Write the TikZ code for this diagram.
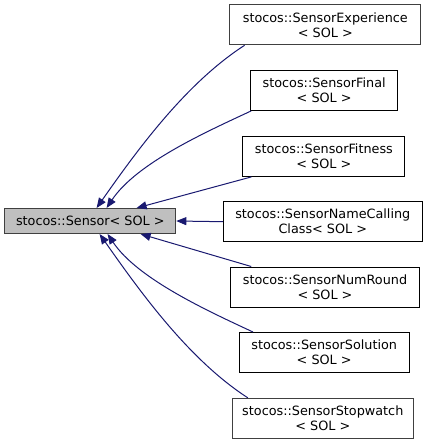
\documentclass[tikz,border=0pt]{standalone}
\usepackage{fontspec}
\setmainfont{DejaVu Sans}
\usetikzlibrary{arrows.meta}
\definecolor{edgeblue}{HTML}{191970}
\definecolor{boxgray}{HTML}{404040}
\definecolor{fillgray}{HTML}{BFBFBF}
\begin{document}
\begin{tikzpicture}[x=1pt,y=-1pt,
  cls/.style={draw=black, line width=1pt, align=center, inner sep=0pt,
    font=\fontsize{12.8}{15}\selectfont, minimum height=40pt},
  graycls/.style={cls, draw=boxgray},
  edge/.style={draw=edgeblue, line width=1pt, -{Triangle[length=10pt,width=8pt]}}]
\useasboundingbox (0,0) rectangle (429,444);
\node[graycls, fill=fillgray, minimum width=171pt, minimum height=25pt] (s) at (90.3,221) {stocos::Sensor< SOL >};
\node[graycls, minimum width=191pt] (exp) at (325.3,24.8) {stocos::SensorExperience\\< SOL >};
\node[cls, minimum width=147pt] (fin) at (324.2,90.4) {stocos::SensorFinal\\< SOL >};
\node[cls, minimum width=162pt] (fit) at (323.9,156.4) {stocos::SensorFitness\\< SOL >};
\node[cls, minimum width=199pt] (nc) at (322.8,221.7) {stocos::SensorNameCalling\\Class< SOL >};
\node[cls, minimum width=188.6pt] (nr) at (325,287) {stocos::SensorNumRound\\< SOL >};
\node[cls, minimum width=170pt] (sol) at (324.2,352.5) {stocos::SensorSolution\\< SOL >};
\node[graycls, minimum width=181pt] (sw) at (322.8,418.3) {stocos::SensorStopwatch\\< SOL >};
\draw[edge] ([xshift=15.3pt]exp.south west) .. controls +(-59,38) and +(40,-57) .. ([xshift=92.3pt]s.north west);
\draw[edge] ([xshift=1pt]fin.south west) .. controls +(-45,21) and +(30,-45) .. ([xshift=102.3pt]s.north west);
\draw[edge] ([xshift=9pt]fit.south west) -- ([xshift=132.3pt]s.north west);
\draw[edge] (nc.west) -- (s.east);
\draw[edge] ([xshift=21pt]nr.north west) -- ([xshift=136.3pt]s.south west);
\draw[edge] ([xshift=14.3pt]sol.north west) .. controls +(-45,-21) and +(30,45) .. ([xshift=103.3pt]s.south west);
\draw[edge] ([xshift=16pt]sw.north west) .. controls +(-59,-38) and +(40,57) .. ([xshift=95.3pt]s.south west);
\end{tikzpicture}
\end{document}
